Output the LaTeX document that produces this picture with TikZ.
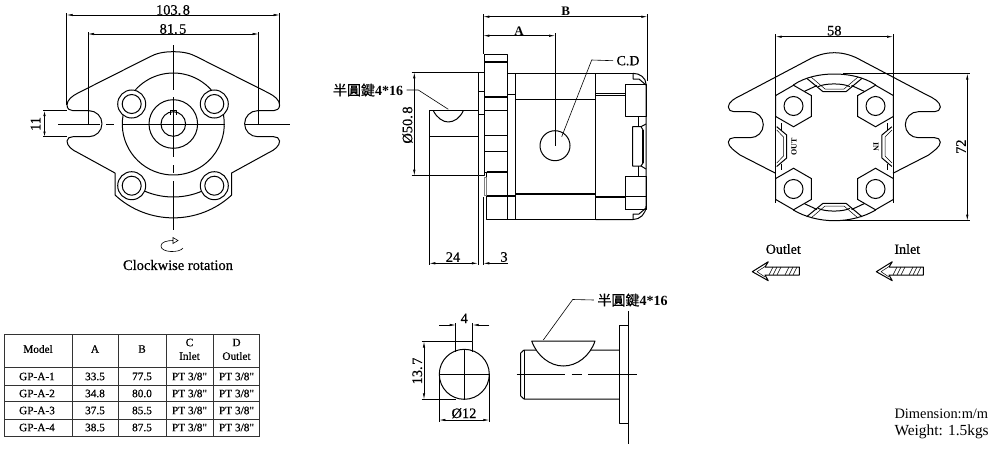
\documentclass[tikz,border=0pt]{standalone}
\usepackage{fontspec}
\setmainfont{Liberation Serif}
\newfontfamily\cjk[FakeBold=.4]{Noto Sans CJK TC}
\newfontfamily\heavy[FakeBold=.5]{Liberation Serif}
\usetikzlibrary{arrows.meta,shapes.geometric}
\newcommand{\fs}[1]{\fontsize{#1}{#1}\selectfont}
\newcommand{\keytext}{{\cjk\fs{14}半圓鍵}{\fs{14}\bfseries 4*16}}
% one half of each mirrored flange
\newcommand{\frontlug}{
\draw[part] (173.3,51.7) .. controls (163,51.7) and (156,53.5) .. (150,56.7) -- (78,93)
  .. controls (72,96) and (67,100) .. (67,105) .. controls (67,109) and (70,110.7) .. (73,110.7)
  -- (89,110.7) arc[start angle=-90,end angle=90,radius=13] -- (73,136.7)
  .. controls (70,136.7) and (67,138) .. (67,141) .. controls (67,146) and (72,150) .. (78,152.7) -- (115,173) -- (115,195);
}
\newcommand{\rearlug}{
\draw[part] (834.3,52.7) .. controls (824,52.7) and (815,56) .. (808,60) -- (741.7,95)
  .. controls (735,98) and (728.3,102) .. (728.3,107) .. controls (728.3,110) and (731,111.7) .. (734,111.7)
  -- (750.3,111.7) arc[start angle=-90,end angle=90,radius=13] -- (734,137.7)
  .. controls (731,137.7) and (728.3,139) .. (728.3,142) .. controls (728.3,147) and (735,151) .. (740,155) -- (775.7,173.3);
}
\newcommand{\topport}{
\draw[part] (806.7,78.3) -- (823,91.7) -- (846,91.7) -- (862,78.3);
\draw[thin part] (811,77) -- (825,89) -- (844,89) -- (858,77);
\draw[part] (818,86.7) .. controls (825,83) and (843,83) .. (850,86.7);
\draw[part] (803,92) -- (817,85.5);
\draw[part] (865.6,92) -- (851.6,85.5);
}
\newcommand{\sideport}{
\draw[part] (776.7,126.7) -- (786.7,135) -- (786.7,158) -- (776.7,166.5);
\draw[thin part] (776.7,130) -- (783.5,137) -- (783.5,156) -- (776.7,163);
\draw[part] (781.5,123) -- (781.5,129.5) (781.5,163.5) -- (781.5,170);
}
\newcommand{\flowarrow}{
\draw[part] (752.3,271.7) -- (768.3,261.7) -- (765,267) -- (799.3,267) -- (799.3,275) -- (765,275) -- (768.3,280.7) -- cycle;
\draw[thin part] (757,271.7) -- (765,266.5) (757,271.7) -- (765,277)
  (769,275) -- (773,267) (773,275) -- (777,267) (777,275) -- (781,267)
  (785,275) -- (789,267) (789,275) -- (793,267) (793,275) -- (797,267);
}
\tikzset{
  part/.style={line width=1pt,line join=round},
  thick part/.style={line width=1.8pt},
  thin part/.style={line width=.5pt},
  dim/.style={line width=.6pt},
  tips/.style={{Latex[length=6pt,width=2.4pt]}-{Latex[length=6pt,width=2.4pt]}},
  center line/.style={line width=1pt},
  num/.style={font=\heavy\fs{14.4}},
  lab/.style={font=\heavy\fs{14}},
  cell/.style={font=\heavy\fs{11.3}},
  bolt/.style={draw,circle,line width=1pt,inner sep=0pt,minimum size=28pt},
  hole/.style={draw,circle,line width=1pt,inner sep=0pt,minimum size=19pt},
  hex/.style={draw,regular polygon,regular polygon sides=6,shape border rotate=30,line width=1pt,inner sep=0pt,minimum size=41.5pt},
}
\begin{document}
\begin{tikzpicture}[x=1pt,y=-1pt]
\useasboundingbox (0,0) rectangle (1000,450);

% front view
\frontlug
\begin{scope}[xshift=346.6pt,xscale=-1]
\frontlug
\end{scope}
\draw[part] (115,195) arc[start angle=132.8,end angle=47.2,radius=85.9];
\draw[part] (231.6,173) -- (231.6,195);
\draw[part] (173.3,124) ++(190:51) arc[start angle=190,end angle=-10,radius=51];
\draw[part] (173.3,124) ++(222:51) arc[start angle=222,end angle=318,radius=51];
\draw[part] (173.3,124) ++(113:73) arc[start angle=113,end angle=67,radius=73];
\node (f1) at (173.3,124) [draw,circle,line width=1pt,inner sep=0pt,minimum size=48.6pt] {};
\node (f2) at (173.3,124) [draw,circle,line width=1pt,inner sep=0pt,minimum size=24.6pt] {};
\draw[part] (170,115) -- (170,110.7) -- (176,110.7) -- (176,115);
\node (b1) at (131.7,104) [bolt,fill=white] {};
\node (b2) at (214.3,104) [bolt,fill=white] {};
\node (b3) at (131.7,185.7) [bolt,fill=white] {};
\node (b4) at (214.3,185.7) [bolt,fill=white] {};
\node (h1) at (131.7,104) [hole] {};
\node (h2) at (214.3,104) [hole] {};
\node (h3) at (131.7,185.7) [hole] {};
\node (h4) at (214.3,185.7) [hole] {};
\draw[center line] (173.3,45) -- (173.3,90) (173.3,97) -- (173.3,157) (173.3,165) -- (173.3,173) (173.3,181) -- (173.3,230);
\draw[center line] (58,124) -- (100,124) (106,124) -- (114,124) (122,124) -- (225,124) (245,124) -- (290,124);
\draw[dim] (183,248) .. controls (180,253) and (161,253) .. (161,246) .. controls (161,242) and (167,240.5) .. (173,240.5);
\draw[dim] (173,237.5) -- (178,240.5) -- (173,243.5) -- cycle;
\node (rot) at (178,265) [font=\heavy\fs{14.5}] {Clockwise rotation};

% dimensions of the front view
\draw[dim] (66.7,13) -- (66.7,105) (279.6,13) -- (279.6,105) (88,32) -- (88,124) (258.6,32) -- (258.6,124);
\draw[dim,tips] (66.7,15) -- (279.6,15);
\draw[dim,tips] (88,34) -- (258.6,34);
\node (d1) at (173,10) [num] {103.\kern1.5pt 8};
\node (d2) at (173,29) [num] {81.\kern1.5pt 5};
\draw[dim] (43,110.7) -- (67,110.7) (43,136.7) -- (67,136.7);
\draw[dim,{Latex[length=5pt,width=2.4pt]}-{Latex[length=5pt,width=2.4pt]}] (44.5,111) -- (44.5,136.5);
\node (d3) at (35.5,124) [num,rotate=90] {11};

% side view
\draw[part] (484,54) rectangle (507.3,172);
\draw[thick part] (484,62.3) -- (507.3,62.3) (484,96.7) -- (507.3,96.7) (484,110.5) -- (507.3,110.5) (484,135.5) -- (507.3,135.5);
\draw[part] (484,151) -- (507.3,151);
\draw[part] (478.3,72.3) rectangle (484,175.7);
\draw[part] (478.3,91.7) -- (484,91.7) (478.3,114) -- (484,114);
\draw[part] (486.7,171.7) -- (507.3,171.7) (486.7,171.7) -- (486.7,219.5) -- (595.7,219.5);
\draw[part] (507.3,73.3) -- (633,73.3) (515,73.3) -- (515,219.5) (507.3,172) -- (507.3,219.5) (595.7,73.3) -- (595.7,219.5);
\draw[part] (507.3,94.5) -- (515,94.5);
\draw[thick part] (515,99.5) -- (595.7,99.5) (515,193.7) -- (595.7,193.7) (486.7,196) -- (515,196) (595.7,197) -- (625.3,197);
\draw[part,gray] (484.5,177) rectangle (486,195);
\draw[thin part] (595.7,93) -- (625.3,93) (595.7,95.5) -- (625.3,95.5);
\draw[part] (625.3,84) rectangle (646,116);
\draw[thick part] (625.3,84.5) -- (646,84.5) (625.3,209.5) -- (646,209.5);
\draw[part] (625.3,176.7) rectangle (646,209.5);
\draw[part] (625.3,196.5) -- (646,196.5);
\draw[part] (595.7,219.5) -- (633,219.5) .. controls (640,219.5) and (646,214) .. (646,206) -- (646,84) .. controls (646,78) and (640,73.3) .. (633,73.3);
\draw[part] (633,73.3) -- (633,79) -- (639,79) -- (646,85) (633,219.5) -- (633,214) -- (639,214) -- (646,208);
\draw[part] (638.3,116) -- (638.3,126.7) (638.3,166) -- (638.3,176.7);
\draw[part] (632.7,126.7) -- (641,126.7) -- (643,130) -- (643,163) -- (641,166) -- (632.7,166) -- cycle;
\draw[thick part] (643,130) -- (643,163);
\draw[part] (641,126.7) -- (646,124) (641,166) -- (646,169);
\node (port) at (555,145.7) [draw,circle,line width=1pt,inner sep=0pt,minimum size=30pt] {};
\draw[part] (429.3,110.7) rectangle (478.3,136);
\draw[part] (433.3,110.7) .. controls (437,118) and (443,122) .. (448.3,122) .. controls (454,122) and (460,118) .. (463.3,110.7);

% dimensions of the side view
\draw[dim] (483.3,14) -- (483.3,54) (647.3,14) -- (647.3,81) (555,33) -- (555,145.7);
\draw[dim,tips] (483.3,16.7) -- (647.3,16.7);
\draw[dim,tips] (483.3,35.7) -- (555,35.7);
\node (dB) at (565.7,11) [font=\fs{13}\bfseries] {B};
\node (dA) at (519,31) [font=\fs{13}\bfseries] {A};
\node (cd) at (628,60.7) [lab] {C.D};
\draw[dim] (cd.west) -- (591.7,60) -- (561.7,136.7);
\draw[dim] (411.7,72.3) -- (478.3,72.3) (411.7,175.7) -- (478.3,175.7);
\draw[dim,tips] (414.3,72.3) -- (414.3,175.7);
\node (d4) at (407.5,125) [num,rotate=90] {Ø50.\kern1.5pt 8};
\node (k1) at (368,90) {\keytext};
\draw[dim] (k1.east) -- (418.3,90) -- (448.3,109.3);
\draw[dim] (429.3,136) -- (429.3,265) (477.8,175.7) -- (477.8,265) (483.3,197) -- (483.3,265);
\draw[dim,tips] (429.3,263.3) -- (477.8,263.3);
\draw[dim,{Latex[length=6pt,width=2.4pt]}-] (483.3,263.3) -- (508,263.3);
\node (d5) at (453,257) [num] {24};
\node (d6) at (504,257) [num] {3};

% rear view
\rearlug
\begin{scope}[xshift=1668.6pt,xscale=-1]
\rearlug
\end{scope}
\draw[part] (775.7,91) -- (775.7,203);
\draw[part] (893,91) -- (893,203);
\draw[part] (793.3,85) .. controls (805,77) and (820,74) .. (834.3,74) .. controls (849,74) and (864,77) .. (875.7,85);
\draw[part] (793.3,210) .. controls (805,217) and (820,220.7) .. (834.3,220.7) .. controls (849,220.7) and (864,217) .. (875.7,210);
\topport
\begin{scope}[yshift=-295pt,yscale=-1]
\topport
\end{scope}
\sideport
\begin{scope}[xshift=1668.6pt,xscale=-1]
\sideport
\end{scope}
\node (x1) at (793.5,106) [hex,fill=white] {};
\node (x2) at (875.5,106) [hex,fill=white] {};
\node (x3) at (793.5,189) [hex,fill=white] {};
\node (x4) at (875.5,189) [hex,fill=white] {};
\node (y1) at (793.5,106) [hole] {};
\node (y2) at (875.5,106) [hole] {};
\node (y3) at (793.5,189) [hole] {};
\node (y4) at (875.5,189) [hole] {};
\node (out) at (794,147) [rotate=90,font=\fs{8}\bfseries] {OUT};
\node (in) at (876,147) [rotate=-90,font=\fs{8}\bfseries] {IN};
\draw[dim] (775.7,34) -- (775.7,91) (893,34) -- (893,91);
\draw[dim,tips] (775.7,36.7) -- (893,36.7);
\node (d7) at (834.3,30.7) [num] {58};
\draw[dim] (843,73.5) -- (970,73.5) (843,220.7) -- (970,220.7);
\draw[dim,tips] (967.3,73.5) -- (967.3,220.7);
\node (d8) at (961,146.7) [num,rotate=90] {72};
\node (outl) at (783.3,249) [lab] {Outlet};
\node (inl) at (907.3,249) [lab] {Inlet};
\flowarrow
\begin{scope}[xshift=124pt]
\flowarrow
\end{scope}

% table
\draw[line width=1pt,black!80] (4,334) rectangle (259.3,436);
\draw[line width=1pt,black!80] (72.3,334) -- (72.3,436) (118.3,334) -- (118.3,436) (166,334) -- (166,436) (213.3,334) -- (213.3,436);
\draw[line width=1pt,black!80] (4,367.3) -- (259.3,367.3) (4,385) -- (259.3,385) (4,401.7) -- (259.3,401.7) (4,419) -- (259.3,419);
\node (t0) at (38,349) [cell] {Model};
\node (t1) at (95,349) [cell] {A};
\node (t2) at (142,349) [cell] {B};
\node (t3) at (189.5,342.5) [cell] {C};
\node (t4) at (189.5,356) [cell] {Inlet};
\node (t5) at (236.5,342.5) [cell] {D};
\node (t6) at (236.5,356) [cell] {Outlet};
\node (r1a) at (37,376.5) [cell] {GP-A-1};
\node (r1b) at (95,376.5) [cell] {33.5};
\node (r1c) at (142,376.5) [cell] {77.5};
\node (r1d) at (189.5,376.5) [cell] {PT 3/8"};
\node (r1e) at (236.5,376.5) [cell] {PT 3/8"};
\node (r2a) at (37,393.5) [cell] {GP-A-2};
\node (r2b) at (95,393.5) [cell] {34.8};
\node (r2c) at (142,393.5) [cell] {80.0};
\node (r2d) at (189.5,393.5) [cell] {PT 3/8"};
\node (r2e) at (236.5,393.5) [cell] {PT 3/8"};
\node (r3a) at (37,410.5) [cell] {GP-A-3};
\node (r3b) at (95,410.5) [cell] {37.5};
\node (r3c) at (142,410.5) [cell] {85.5};
\node (r3d) at (189.5,410.5) [cell] {PT 3/8"};
\node (r3e) at (236.5,410.5) [cell] {PT 3/8"};
\node (r4a) at (37,427.5) [cell] {GP-A-4};
\node (r4b) at (95,427.5) [cell] {38.5};
\node (r4c) at (142,427.5) [cell] {87.5};
\node (r4d) at (189.5,427.5) [cell] {PT 3/8"};
\node (r4e) at (236.5,427.5) [cell] {PT 3/8"};

% key detail, end view
\node (s1) at (464.3,374.3) [draw,circle,line width=1pt,inner sep=0pt,minimum size=50pt] {};
\draw[part] (455.7,351.5) -- (455.7,341.5) -- (472.7,341.5) -- (472.7,351.5);
\draw[part] (464.3,350) -- (464.3,399) (439.3,374.3) -- (489.3,374.3);
\draw[dim] (455.7,323) -- (455.7,341) (472.7,323) -- (472.7,341);
\draw[dim,-{Latex[length=6pt,width=2.4pt]}] (439.3,325) -- (455.7,325);
\draw[dim,-{Latex[length=6pt,width=2.4pt]}] (489.3,325) -- (472.7,325);
\node (d9) at (464.3,318.3) [num] {4};
\draw[dim] (421.7,341.5) -- (455.7,341.5) (421.7,399.3) -- (456,399.3);
\draw[dim,tips] (424,341.5) -- (424,399.3);
\node (d10) at (417.3,371) [num,rotate=90] {13.\kern1.5pt 7};
\draw[dim] (439.3,374.3) -- (439.3,422) (489.3,374.3) -- (489.3,422);
\draw[dim,tips] (439.3,420) -- (489.3,420);
\node (d11) at (464,413.3) [num] {Ø12};

% key detail, shaft
\draw[part] (619.3,350) -- (524,350) -- (520.7,353) -- (520.7,396) -- (524,399) -- (619.3,399);
\draw[part] (524.3,350) -- (524.3,399);
\draw[part] (619.3,325.7) rectangle (628,423.3);
\draw[part] (628,311) -- (628,444.3);
\draw[part,fill=white] (531.7,341) -- (595,341) .. controls (590,356) and (577,366) .. (563.3,366) .. controls (550,366) and (537,356) .. (531.7,341) -- cycle;
\draw[center line] (516.7,374.3) -- (565,374.3) (571.7,374.3) -- (581.7,374.3) (588.3,374.3) -- (637.3,374.3);
\node (k2) at (632.5,300) {\keytext};
\draw[dim] (k2.west) -- (572.7,299.5) -- (543.3,340);

% notes
\node (n1) at (891,414) [anchor=west,font=\fs{14.4}] {Dimension:m/m};
\node (n2) at (891,432) [anchor=west,font=\fs{15.4}] {Weight: 1.5kgs};
\end{tikzpicture}
\end{document}
